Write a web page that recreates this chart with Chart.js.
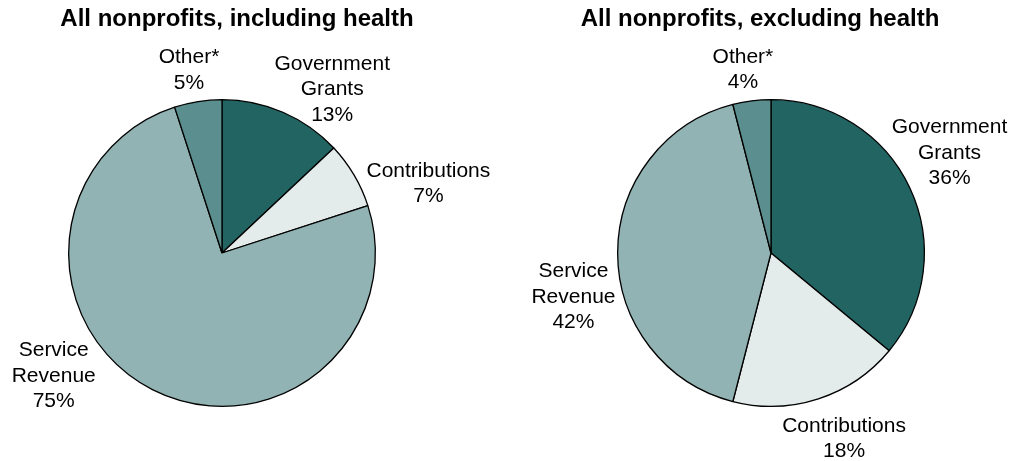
<!DOCTYPE html>
<html>
<head>
<meta charset="utf-8">
<script src="https://cdn.jsdelivr.net/npm/chart.js@4.4.1/dist/chart.umd.min.js"></script>
<style>
  html, body { margin: 0; padding: 0; background: #fff; }
  .wrap { position: relative; width: 1014px; height: 461px; }
  .pane { position: absolute; top: 0; width: 507px; height: 461px; }
  #left { left: 0; }
  #right { left: 507px; }
</style>
</head>
<body>
<div class="wrap">
  <div class="pane" id="left"><canvas id="pieIncl" width="507" height="461"></canvas></div>
  <div class="pane" id="right"><canvas id="pieExcl" width="507" height="461"></canvas></div>
</div>
<script>
// revenue sources, clockwise from 12 o'clock
const categories = ["Government Grants", "Contributions", "Service Revenue", "Other*"];
const labelLines = [["Government", "Grants"], ["Contributions"], ["Service", "Revenue"], ["Other*"]];
const inclHealth = [13, 7, 75, 5];
const exclHealth = [36, 18, 42, 4];
const titles = ["All nonprofits, including health", "All nonprofits, excluding health"];

const sliceColors = ["#216462", "#e3ebeb", "#92b3b3", "#5b8e8e"];

// draws the chart title and the text next to each slice
const pieText = {
  id: 'pieText',
  afterDraw(chart, args, opts) {
    const ctx = chart.ctx;
    const arcs = chart.getDatasetMeta(0).data;
    const cx = arcs[0].x, cy = arcs[0].y, r = arcs[0].outerRadius;
    const values = chart.data.datasets[0].data;
    ctx.save();
    ctx.fillStyle = '#000';
    ctx.textAlign = 'center';
    ctx.textBaseline = 'middle';
    ctx.font = 'bold 24px Arial, "Liberation Sans", sans-serif';
    ctx.fillText(opts.title, cx + opts.titleDx, 19);
    ctx.font = '21px Arial, "Liberation Sans", sans-serif';
    arcs.forEach((arc, i) => {
      const [deg, dist] = opts.place[i];
      const a = deg * Math.PI / 180;
      const x = cx + Math.sin(a) * r * dist;
      const y = cy - Math.cos(a) * r * dist;
      const lines = labelLines[i].concat([values[i] + '%']);
      lines.forEach((t, k) => {
        ctx.fillText(t, x, y + (k - (lines.length - 1) / 2) * 25.5);
      });
    });
    ctx.restore();
  }
};

function makePie(id, values, title, padding, titleDx, place) {
  return new Chart(document.getElementById(id), {
    type: 'pie',
    data: {
      labels: categories,
      datasets: [{
        data: values,
        backgroundColor: sliceColors,
        borderColor: '#000',
        borderWidth: 1.3
      }]
    },
    options: {
      responsive: false,
      animation: false,
      events: [],
      layout: { padding: padding },
      plugins: {
        legend: { display: false },
        tooltip: { enabled: false },
        pieText: { title: title, titleDx: titleDx, place: place }
      }
    },
    plugins: [pieText]
  });
}

// label anchors: [angle in degrees clockwise from top, distance in radii]
makePie('pieIncl', inclHealth, titles[0],
  { top: 99, bottom: 54, left: 68, right: 131 }, 15,
  [[34.0, 1.285], [71.4, 1.42], [233.8, 1.36], [349.75, 1.21]]);

makePie('pieExcl', exclHealth, titles[1],
  { top: 99, bottom: 54, left: 110, right: 89 }, -11,
  [[60.7, 1.335], [158.5, 1.30], [257.4, 1.32], [351.3, 1.21]]);
</script>
</body>
</html>
